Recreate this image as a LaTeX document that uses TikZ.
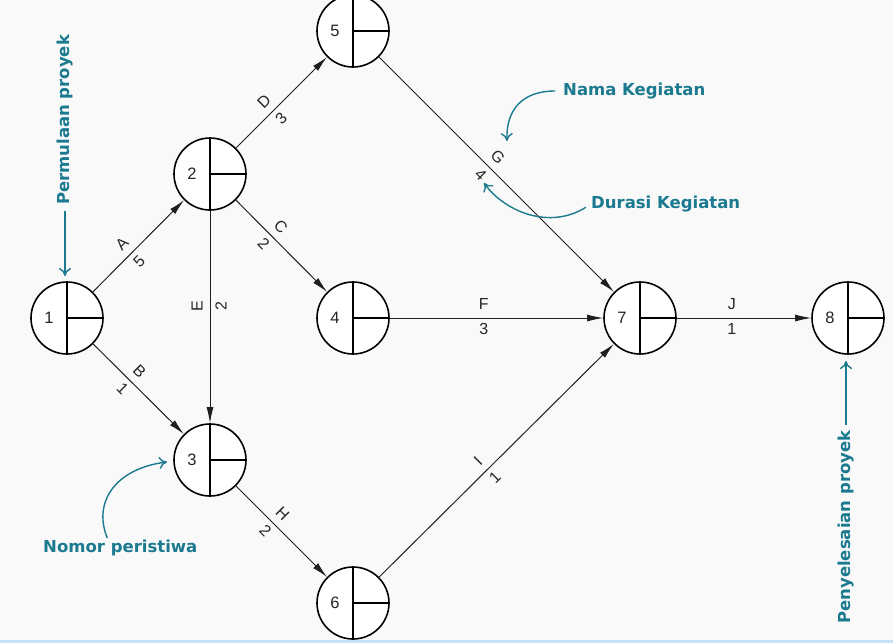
\documentclass[tikz,border=0pt]{standalone}
\usepackage{fontspec}
\setmainfont{Liberation Sans}
\newfontfamily\annotfont{DejaVu Sans}
\usetikzlibrary{arrows.meta,calc}
\definecolor{tealc}{RGB}{27,122,143}
\definecolor{bgc}{RGB}{249,249,249}
\definecolor{edgec}{RGB}{30,30,30}
\definecolor{bandc}{RGB}{200,225,245}
\newcommand\eventnode[4]{%
  \node[event] (#1) at (#2,#3) {};
  \node[evnum] (#1num) at ($(#1.center)+(-18,0)$) {#4};}
\begin{document}
\begin{tikzpicture}[x=1pt,y=-1pt,
  event/.style={circle, draw=black, line width=1.6pt, fill=white, minimum size=72pt, inner sep=0pt,
    path picture={\draw[line width=1.6pt] (path picture bounding box.north) -- (path picture bounding box.south);
                  \draw[line width=1.6pt] (path picture bounding box.center) -- (path picture bounding box.east);}},
  evnum/.style={font=\fontsize{16.5}{16.5}\selectfont, inner sep=0pt, text=black!85},
  act/.style={draw=edgec, line width=1pt, -{Latex[length=16pt,width=7pt]}},
  nm/.style={font=\fontsize{16}{16}\selectfont, inner sep=0pt, text=black!85},
  annot/.style={font=\annotfont\bfseries\fontsize{16.5}{18}\selectfont, text=tealc, inner sep=0pt},
  pointer/.style={draw=tealc, line width=1.4pt, -{To[length=8pt,width=12pt]}}
]
\useasboundingbox (0,0) rectangle (893,643);
\clip (0,0) rectangle (893,643);
\fill[bgc] (0,0) rectangle (893,643);
\fill[bandc] (0,640) rectangle (893,643);

\eventnode{n1}{67}{318}{1}
\eventnode{n2}{210}{174}{2}
\eventnode{n3}{210}{460}{3}
\eventnode{n4}{353}{318}{4}
\eventnode{n5}{353}{31}{5}
\eventnode{n6}{353}{603}{6}
\eventnode{n7}{640}{318}{7}
\eventnode{n8}{848}{318}{8}

\draw[act] (n1) -- (n2) node[nm, pos=0.42, sloped, above=7pt] (lA) {A} node[nm, pos=0.42, sloped, below=5pt] (dA) {5};
\draw[act] (n1) -- (n3) node[nm, pos=0.41, sloped, above=7pt] (lB) {B} node[nm, pos=0.41, sloped, below=5pt] (dB) {1};
\draw[act] (n2) -- (n5) node[nm, pos=0.41, sloped, above=7pt] (lD) {D} node[nm, pos=0.41, sloped, below=5pt] (dD) {3};
\draw[act] (n2) -- (n4) node[nm, pos=0.39, sloped, above=7pt] (lC) {C} node[nm, pos=0.39, sloped, below=5pt] (dC) {2};
\draw[act] (n2) -- (n3) node[nm, pos=0.447, rotate=90, above=7pt] (lE) {E} node[nm, pos=0.447, rotate=90, below=5pt] (dE) {2};
\draw[act] (n3) -- (n6) node[nm, pos=0.41, sloped, above=7pt] (lH) {H} node[nm, pos=0.41, sloped, below=5pt] (dH) {2};
\draw[act] (n5) -- (n7) node[nm, pos=0.466, sloped, above=7pt] (lG) {G} node[nm, pos=0.466, sloped, below=5pt] (dG) {4};
\draw[act] (n4) -- (n7) node[nm, pos=0.44, above=8pt] (lF) {F} node[nm, pos=0.44, below=5pt] (dF) {3};
\draw[act] (n6) -- (n7) node[nm, pos=0.46, sloped, above=7pt] (lI) {I} node[nm, pos=0.46, sloped, below=5pt] (dI) {1};
\draw[act] (n7) -- (n8) node[nm, pos=0.41, above=8pt] (lJ) {J} node[nm, pos=0.41, below=5pt] (dJ) {1};

% annotations
\node[annot, rotate=90] (perm) at (65,120) {Permulaan proyek};
\coordinate (permtip) at (65,276);
\draw[pointer, shorten <=6pt] (perm.west) -- (permtip);

\node[annot, rotate=90] (peny) at (846,527) {Penyelesaian proyek};
\coordinate (penytip) at (846,361);
\draw[pointer, shorten <=5pt] (peny.east) -- (penytip);

\node[annot, anchor=west] (nama) at (563,91) {Nama Kegiatan};
\coordinate (namatip) at (507,141);
\draw[pointer, shorten <=8pt] (nama.west) .. controls (522,91) and (506,110) .. (namatip);

\node[annot, anchor=west] (dur) at (591,204) {Durasi Kegiatan};
\coordinate (durtip) at (484,183);
\draw[pointer, shorten <=6pt] (dur.west) .. controls (550,230) and (505,212) .. (durtip);

\node[annot, anchor=west] (nomor) at (43,548) {Nomor peristiwa};
\coordinate (nomortip) at (167,462);
\draw[pointer, shorten <=2pt] ([xshift=65pt]nomor.north west) .. controls (92,500) and (118,468) .. (nomortip);
\end{tikzpicture}
\end{document}
